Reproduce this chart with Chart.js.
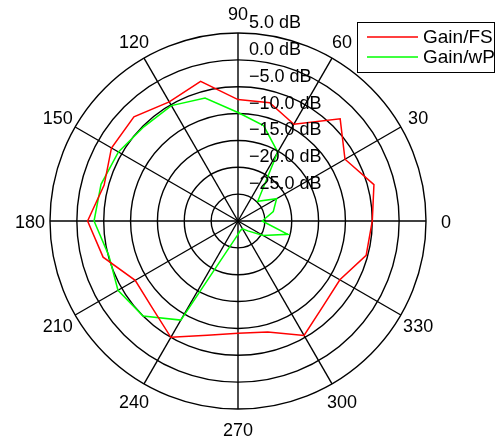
<!DOCTYPE html>
<html>
<head>
<meta charset="utf-8">
<script src="https://cdn.jsdelivr.net/npm/chart.js@4.4.1/dist/chart.umd.min.js"></script>
<style>
  body { margin: 0; background: #fff; }
  #wrap { width: 499px; height: 441px; }
</style>
</head>
<body>
<div id="wrap"><canvas id="polarChart"></canvas></div>
<script>
// angles in degrees, counter-clockwise from the right
const angles = [0, 15, 30, 45, 60, 75, 90, 105, 120, 135, 150, 165,
                180, 195, 210, 225, 240, 255, 270, 285, 300, 315, 330, 345];
const gainFS = [-5.0, -3.8, -7.0, -3.1, -9.2, -7.2, -7.4, -3.1, -4.4, -2.6, -2.8, -4.2,
                -2.0, -4.0, -7.9, -7.3, -5.0, -8.0, -9.1, -8.6, -5.4, -7.6, -8.1, -5.3];
const gainWP = [-25.5, -23.2, -21.7, -24.8, -15.2, -11.6, -9.8, -6.3, -5.2, -5.2, -4.3, -3.6,
                -3.2, -5.1, -4.2, -5.0, -8.7, -25.7, -27.5, -28.2, -28.3, -27.4, -24.6, -20.4];
const angleTicks = [0, 30, 60, 90, 120, 150, 180, 210, 240, 270, 300, 330];
const tickValues = [5, 0, -5, -10, -15, -20, -25];
const tickLabels = ['5.0 dB', '0.0 dB', '\u22125.0 dB', '\u221210.0 dB', '\u221215.0 dB', '\u221220.0 dB', '\u221225.0 dB'];
const seriesNames = ['Gain/FS', 'Gain/wP'];

const FONT = '18px "Liberation Sans", Arial, sans-serif';
const LEGEND_FONT = '19px "Liberation Sans", Arial, sans-serif';

// radar goes clockwise from the top, so start at 90 and walk downwards
let order = [];
for (let k = 0; k < angles.length; k++) {
  order.push(angles.indexOf((90 - 15 * k + 360) % 360));
}
let labels = order.map(i => angles[i]);
let dataFS = order.map(i => gainFS[i]);
let dataWP = order.map(i => gainWP[i]);

const polarText = {
  id: 'polarText',
  afterDraw(chart) {
    const ctx = chart.ctx;
    const r = chart.scales.r;
    ctx.save();
    ctx.font = FONT;
    ctx.fillStyle = '#000';
    // angle labels
    ctx.textAlign = 'center';
    ctx.textBaseline = 'middle';
    labels.forEach((a, i) => {
      if (angleTicks.indexOf(a) < 0) return;
      const p = r.getPointPosition(i, r.drawingArea + 20);
      ctx.fillText(String(a), p.x, p.y + 2);
    });
    // ring labels
    ctx.textAlign = 'left';
    ctx.textBaseline = 'alphabetic';
    tickValues.forEach((v, i) => {
      const y = r.yCenter - r.getDistanceFromCenterForValue(v) - 5;
      ctx.fillText(tickLabels[i], r.xCenter + 11, y);
    });
    ctx.restore();
  }
};

const legendBox = {
  id: 'legendBox',
  afterDraw(chart) {
    const ctx = chart.ctx;
    const x0 = 357, y0 = 22, w = 137, h = 50;
    ctx.save();
    ctx.fillStyle = '#fff';
    ctx.fillRect(x0, y0, w, h);
    ctx.strokeStyle = '#000';
    ctx.lineWidth = 1;
    ctx.strokeRect(x0 + 0.5, y0 + 0.5, w, h);
    ctx.font = LEGEND_FONT;
    ctx.textAlign = 'left';
    ctx.textBaseline = 'middle';
    chart.data.datasets.forEach((ds, i) => {
      const y = y0 + 15 + i * 20;
      ctx.strokeStyle = ds.borderColor;
      ctx.lineWidth = 1.5;
      ctx.beginPath();
      ctx.moveTo(x0 + 10, y);
      ctx.lineTo(x0 + 61, y);
      ctx.stroke();
      ctx.fillStyle = '#000';
      ctx.fillText(ds.label, x0 + 66, y + 1);
    });
    ctx.restore();
  }
};

let chart = new Chart(document.getElementById('polarChart').getContext('2d'), {
  type: 'radar',
  data: {
    labels: labels,
    datasets: [{
      label: seriesNames[0],
      data: dataFS,
      borderColor: '#ff0000',
      borderWidth: 1.5,
      fill: false,
      pointRadius: 0,
      tension: 0
    }, {
      label: seriesNames[1],
      data: dataWP,
      borderColor: '#00ff00',
      borderWidth: 1.5,
      fill: false,
      pointRadius: 0,
      tension: 0
    }]
  },
  options: {
    responsive: true,
    maintainAspectRatio: false,
    animation: false,
    layout: { padding: { left: 50, right: 72, top: 33, bottom: 31 } },
    plugins: {
      legend: { display: false },
      tooltip: { enabled: false }
    },
    scales: {
      r: {
        min: -30,
        max: 5,
        startAngle: 0,
        ticks: { stepSize: 5, display: false },
        grid: { circular: true, color: '#000', lineWidth: 1.4 },
        angleLines: {
          color: (c) => (c.index % 2 === 0 ? '#000' : 'rgba(0,0,0,0)'),
          lineWidth: 1.4
        },
        pointLabels: { display: false }
      }
    }
  },
  plugins: [polarText, legendBox]
});
</script>
</body>
</html>
